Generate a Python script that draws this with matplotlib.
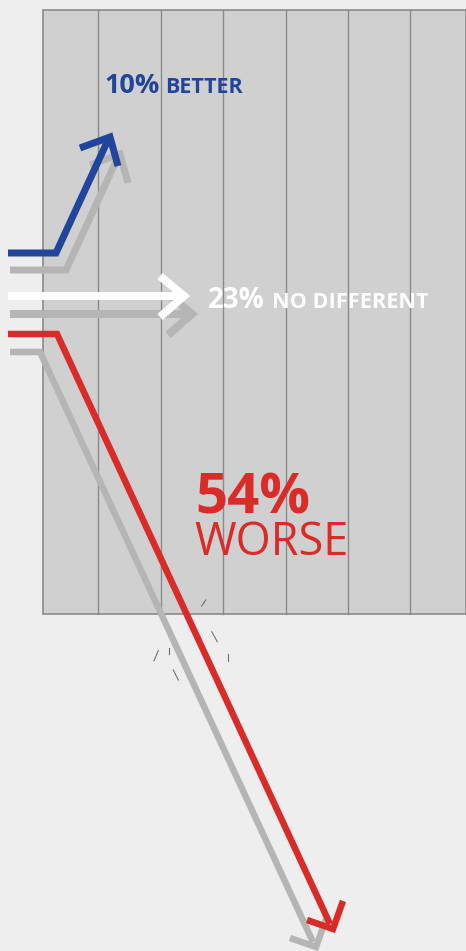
import matplotlib
matplotlib.use("Agg")
import matplotlib.pyplot as plt
from matplotlib.patches import Rectangle

# data
percents = [10, 23, 54]
labels = ["BETTER", "NO DIFFERENT", "WORSE"]
colors = ["#21449c", "#ffffff", "#d92b27"]

# layout (pixel space, y down)
W, H = 466, 951
BG = "#eeeeee"
PANEL = "#d0d0d0"
SHADOW = "#b5b5b5"
GRID = "#8a8a8a"
panel_box = (43, 10, 466, 614)
grid_x = [98, 161, 223, 286, 348, 410]

# arrow paths: (shaft points, head points, linewidth px)
arrows = [
    ([(8, 253), (56, 253), (108, 140)], [(80, 148), (110, 137), (118, 166)], 7),
    ([(8, 296), (183, 296)], [(160, 276), (184, 296), (160, 317)], 8),
    ([(8, 334), (57, 334), (330, 924)], [(307, 920), (333, 929), (343, 901)], 6.5),
]
shadow_offsets = [(10, 17), (8, 18), (-17, 18)]

# shatter marks around where the red arrow breaks out of the panel
shards = [
    ((201.7, 606), (205.7, 600)),
    ((211.7, 631.7), (217.3, 641.7)),
    ((228.3, 654), (228.3, 661)),
    ((169.3, 648.3), (169.3, 654)),
    ((158.3, 650.7), (154, 660.7)),
    ((173.3, 670), (178.3, 680)),
    ((161.7, 615), (167.3, 629.3)),
]

PX = 0.72  # points per pixel at dpi 100

fig = plt.figure(figsize=(W / 100, H / 100), dpi=100, facecolor=BG)
ax = fig.add_axes([0, 0, 1, 1])
ax.set_xlim(0, W)
ax.set_ylim(H, 0)
ax.axis("off")

x0, y0, x1, y1 = panel_box
ax.add_patch(Rectangle((x0, y0), x1 - x0, y1 - y0, facecolor=PANEL,
                       edgecolor=GRID, linewidth=1.2, zorder=1))
for gx in grid_x:
    ax.plot([gx, gx], [y0, y1], color=GRID, linewidth=1.0, zorder=1.5)

for (a, b) in shards:
    ax.plot([a[0], b[0]], [a[1], b[1]], color="#6f6f6f", linewidth=0.8, zorder=2)


def draw_arrow(shaft, head, lw, color, dx=0, dy=0, z=3):
    sx = [p[0] + dx for p in shaft]
    sy = [p[1] + dy for p in shaft]
    hx = [p[0] + dx for p in head]
    hy = [p[1] + dy for p in head]
    ax.plot(sx, sy, color=color, linewidth=lw * PX, solid_capstyle="butt",
            solid_joinstyle="miter", zorder=z)
    ax.plot(hx, hy, color=color, linewidth=lw * PX, solid_capstyle="butt",
            solid_joinstyle="miter", zorder=z)


# shadows first (their tails stay at the left edge), then the coloured arrows
for (shaft, head, lw), (dx, dy) in zip(arrows, shadow_offsets):
    shaft_s = [(shaft[0][0] + 2 - dx, shaft[0][1])] + shaft[1:]
    draw_arrow(shaft_s, head, lw, SHADOW, dx, dy, z=2.5)
for (shaft, head, lw), c in zip(arrows, colors):
    draw_arrow(shaft, head, lw, c, z=3)

font = "Open Sans"
ax.text(104, 93, f"{percents[0]}%", color=colors[0], fontsize=19.5,
        fontweight="bold", family=font, va="baseline", zorder=4)
ax.text(165, 93, labels[0], color=colors[0], fontsize=15.5,
        fontweight="bold", family=font, va="baseline", zorder=4)

ax.text(208, 308, f"{percents[1]}%", color=colors[1], fontsize=20,
        fontweight="bold", family=font, va="baseline", zorder=4)
ax.text(272, 308, labels[1], color=colors[1], fontsize=15.6,
        fontweight="bold", family=font, va="baseline", zorder=4)

ax.text(195, 513, f"{percents[2]}%", color=colors[2], fontsize=40.5,
        fontweight="bold", family=font, va="baseline", zorder=4)
ax.text(194, 555, labels[2], color=colors[2], fontsize=32.5,
        fontweight="normal", family=font, va="baseline", zorder=4)

fig.savefig("out.png", dpi=100, facecolor=BG)
